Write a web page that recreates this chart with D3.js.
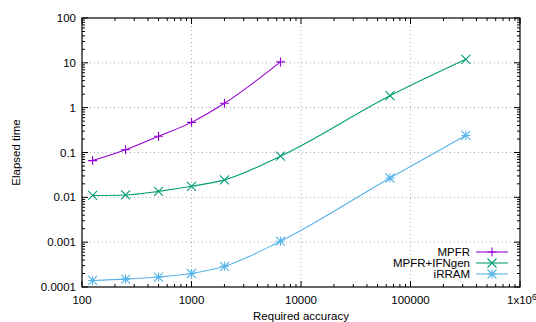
<!DOCTYPE html>
<html>
<head>
<meta charset="utf-8">
<script src="https://cdn.jsdelivr.net/npm/d3@7"></script>
<style>
  body { margin: 0; background: #fff; }
  text { font-family: "Liberation Sans", Arial, sans-serif; font-size: 11.5px; fill: #000; }
</style>
</head>
<body>
<div id="chart"></div>
<script>

// accuracy values (x) shared by all series
var accuracy = [125, 250, 500, 1000, 2000, 6500, 65000, 320000];

// elapsed times per library
var mpfr = [0.066, 0.115, 0.23, 0.47, 1.25, 10.5];
var mpfrIfngen = [0.011, 0.0113, 0.0136, 0.0176, 0.0245, 0.083, 1.85, 12];
var irram = [0.00014, 0.00015, 0.000167, 0.0002, 0.00029, 0.00105, 0.027, 0.24];

var seriesNames = ['MPFR', 'MPFR+IFNgen', 'iRRAM'];
var seriesColors = ['#9400d3', '#009e73', '#56b4e9'];
var seriesMarks = ['plus', 'cross', 'star'];

var xTicks = [100, 1000, 10000, 100000, 1000000];
var xTickLabels = ['100', '1000', '10000', '100000', '1x10'];
var yTicks = [0.0001, 0.001, 0.01, 0.1, 1, 10, 100];
var yTickLabels = ['0.0001', '0.001', '0.01', '0.1', '1', '10', '100'];

var width = 536, height = 322;
var margin = { top: 18, right: 16, bottom: 35, left: 82 },
    w = width - margin.left - margin.right,
    h = height - margin.top - margin.bottom;

var svg = d3.select('#chart')
    .append('svg')
    .attr('width', width)
    .attr('height', height);

var g = svg.append('g')
    .attr('transform', `translate(${margin.left},${margin.top})`);

var x = d3.scaleLog().domain([100, 1000000]).range([0, w]);
var y = d3.scaleLog().domain([0.0001, 100]).range([h, 0]);

// grid
g.append('g').selectAll('line')
    .data(xTicks.slice(1, -1))
    .enter().append('line')
    .attr('x1', d => x(d)).attr('x2', d => x(d))
    .attr('y1', 0).attr('y2', h)
    .attr('stroke', '#aaa').attr('stroke-width', 1)
    .attr('stroke-dasharray', '1,3');

g.append('g').selectAll('line')
    .data(yTicks.slice(1, -1))
    .enter().append('line')
    .attr('y1', d => y(d)).attr('y2', d => y(d))
    .attr('x1', 0).attr('x2', w)
    .attr('stroke', '#aaa').attr('stroke-width', 1)
    .attr('stroke-dasharray', '1,3');

// minor ticks
function minors(lo, hi) {
    var out = [];
    for (var p = lo; p < hi; p *= 10) {
        for (var k = 2; k < 10; k++) out.push(p * k);
    }
    return out;
}
var ticksG = g.append('g').attr('stroke', '#000').attr('stroke-width', 1);

minors(100, 1000000).forEach(function (v) {
    ticksG.append('line').attr('x1', x(v)).attr('x2', x(v)).attr('y1', h).attr('y2', h - 3);
    ticksG.append('line').attr('x1', x(v)).attr('x2', x(v)).attr('y1', 0).attr('y2', 3);
});
xTicks.forEach(function (v) {
    ticksG.append('line').attr('x1', x(v)).attr('x2', x(v)).attr('y1', h).attr('y2', h - 6);
    ticksG.append('line').attr('x1', x(v)).attr('x2', x(v)).attr('y1', 0).attr('y2', 6);
});
minors(0.0001, 100).forEach(function (v) {
    ticksG.append('line').attr('y1', y(v)).attr('y2', y(v)).attr('x1', 0).attr('x2', 3);
    ticksG.append('line').attr('y1', y(v)).attr('y2', y(v)).attr('x1', w).attr('x2', w - 3);
});
yTicks.forEach(function (v) {
    ticksG.append('line').attr('y1', y(v)).attr('y2', y(v)).attr('x1', 0).attr('x2', 6);
    ticksG.append('line').attr('y1', y(v)).attr('y2', y(v)).attr('x1', w).attr('x2', w - 6);
});

// tick labels
g.append('g').selectAll('text')
    .data(xTicks)
    .enter().append('text')
    .attr('x', d => x(d))
    .attr('y', h + 17)
    .attr('text-anchor', 'middle')
    .text((d, i) => xTickLabels[i])
    .filter((d, i) => i === xTicks.length - 1)
    .attr('x', d => x(d) - 13)
    .attr('text-anchor', 'start')
    .append('tspan')
    .attr('dy', -4)
    .style('font-size', '8.5px')
    .text('6');

g.append('g').selectAll('text')
    .data(yTicks)
    .enter().append('text')
    .attr('x', -6)
    .attr('y', d => y(d) + 4)
    .attr('text-anchor', 'end')
    .text((d, i) => yTickLabels[i]);

// axis titles
svg.append('text')
    .attr('x', margin.left + w / 2)
    .attr('y', 320)
    .attr('text-anchor', 'middle')
    .text('Required accuracy');

svg.append('text')
    .attr('transform', `translate(20,${margin.top + h / 2}) rotate(-90)`)
    .attr('text-anchor', 'middle')
    .text('Elapsed time');

// markers
function drawMark(sel, kind, cx, cy, color) {
    var s = 4.5;
    var p = '';
    if (kind === 'plus' || kind === 'star')
        p += `M${cx - s},${cy}H${cx + s}M${cx},${cy - s}V${cy + s}`;
    if (kind === 'cross' || kind === 'star')
        p += `M${cx - s},${cy - s}L${cx + s},${cy + s}M${cx - s},${cy + s}L${cx + s},${cy - s}`;
    sel.append('path').attr('d', p)
        .attr('stroke', color).attr('stroke-width', 1.1).attr('fill', 'none');
}

var line = d3.line()
    .x(d => x(d[0]))
    .y(d => y(d[1]))
    .curve(d3.curveMonotoneX);

[mpfr, mpfrIfngen, irram].forEach(function (vals, si) {
    var pts = vals.map((v, i) => [accuracy[i], v]);
    g.append('path')
        .attr('d', line(pts))
        .attr('fill', 'none')
        .attr('stroke', seriesColors[si])
        .attr('stroke-width', 1.1);
    var mg = g.append('g');
    pts.forEach(function (p) {
        drawMark(mg, seriesMarks[si], x(p[0]), y(p[1]), seriesColors[si]);
    });
});

// legend
var legend = svg.append('g');
seriesNames.forEach(function (name, i) {
    var ly = 252 + i * 11;
    legend.append('text')
        .attr('x', 470)
        .attr('y', ly + 4)
        .attr('text-anchor', 'end')
        .text(name);
    legend.append('line')
        .attr('x1', 476).attr('x2', 508)
        .attr('y1', ly).attr('y2', ly)
        .attr('stroke', seriesColors[i]).attr('stroke-width', 1.1);
    drawMark(legend, seriesMarks[i], 492, ly, seriesColors[i]);
});

// border
g.append('rect')
    .attr('width', w).attr('height', h)
    .attr('fill', 'none')
    .attr('stroke', '#000')
    .attr('stroke-width', 1.2);

</script>
</body>
</html>
